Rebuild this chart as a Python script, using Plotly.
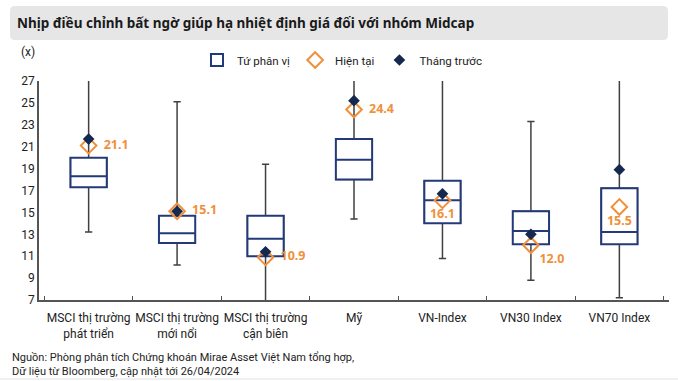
import plotly.graph_objects as go

categories = ["MSCI thị trường phát triển", "MSCI thị trường mới nổi", "MSCI thị trường cận biên",
              "Mỹ", "VN-Index", "VN30 Index", "VN70 Index"]
tick_labels = ["MSCI thị trường<br>phát triển", "MSCI thị trường<br>mới nổi", "MSCI thị trường<br>cận biên",
               "Mỹ", "VN-Index", "VN30 Index", "VN70 Index"]
q1 = [17.3, 12.2, 11.0, 18.0, 14.0, 12.1, 12.1]
median = [18.3, 13.1, 12.6, 19.8, 16.1, 13.3, 13.2]
q3 = [20.0, 14.7, 14.7, 21.7, 17.9, 15.1, 17.2]
lower = [13.2, 10.2, 6.0, 14.4, 10.8, 8.8, 7.2]
upper = [28.5, 25.1, 19.4, 29.0, 28.0, 23.3, 29.0]
current = [21.1, 15.1, 10.9, 24.4, 16.1, 12.0, 15.5]
previous = [21.7, 15.1, 11.4, 25.2, 16.7, 13.0, 18.9]
label_pos = ["middle right", "middle right", "middle right", "middle right",
             "bottom center", "bottom right", "bottom center"]

NAVY = "#22397A"
DARK = "#15294F"
ORANGE = "#F0903A"
GRAY = "#404040"
FONT = "Noto Sans"
CFONT = "Roboto"

def label(v, pos):
    s = f"{v:.1f}"
    return "\u00a0\u00a0" + s if pos == "middle right" else s

fig = go.Figure()
fig.add_trace(go.Box(x=categories, q1=q1, median=median, q3=q3, lowerfence=lower, upperfence=upper,
                     line=dict(color=GRAY, width=1.5), fillcolor="white", width=0.41, whiskerwidth=0.2,
                     boxpoints=False, showlegend=False, hoverinfo="skip"))
fig.add_trace(go.Box(x=categories, q1=q1, median=median, q3=q3, lowerfence=q1, upperfence=q3,
                     line=dict(color=NAVY, width=2), fillcolor="white", width=0.41, whiskerwidth=0,
                     boxpoints=False, name="Tứ phân vị"))
fig.add_trace(go.Scatter(x=categories, y=current, mode="markers+text", name="Hiện tại",
                         marker=dict(symbol="diamond-open", size=12, color=ORANGE, line=dict(width=2, color=ORANGE)),
                         text=[label(v, p) for v, p in zip(current, label_pos)], textposition=label_pos,
                         textfont=dict(color=ORANGE, size=12.5, family=FONT, weight="bold"), cliponaxis=False))
fig.add_trace(go.Scatter(x=categories, y=previous, mode="markers", name="Tháng trước",
                         marker=dict(symbol="diamond", size=9, color=DARK)))

L, R, T, B = 39, 9, 81, 81
W, H = 678, 381
pw, ph = W - L - R, H - T - B

def px(x):
    return (x - L) / pw

def py(y):
    return (H - B - y) / ph

x0, x1, y0, y1 = px(10), px(668), py(40), py(6)
rx, ry = 5 / pw, 5 / ph
path = (f"M {x0+rx},{y1} L {x1-rx},{y1} Q {x1},{y1} {x1},{y1-ry} L {x1},{y0+ry} Q {x1},{y0} {x1-rx},{y0} "
        f"L {x0+rx},{y0} Q {x0},{y0} {x0},{y0+ry} L {x0},{y1-ry} Q {x0},{y1} {x0+rx},{y1} Z")

fig.update_layout(
    width=W, height=H, margin=dict(l=L, r=R, t=T, b=B, autoexpand=False),
    paper_bgcolor="white", plot_bgcolor="white",
    font=dict(family=FONT, size=12, color="#222"),
    boxmode="overlay",
    shapes=[dict(type="path", xref="paper", yref="paper", path=path, fillcolor="#E6E6E6", line=dict(width=0), layer="below"),
            dict(type="line", xref="paper", yref="paper", x0=px(0), x1=px(678), y0=py(379), y1=py(379),
                 line=dict(color="#E2E2E2", width=1))],
    annotations=[
        dict(text="<b>Nhịp điều chỉnh bất ngờ giúp hạ nhiệt định giá đối với nhóm Midcap</b>", xref="paper", yref="paper",
             x=px(15), y=py(23), xanchor="left", yanchor="middle", showarrow=False, font=dict(size=13.5, color="#1a1a1a")),
        dict(text="(x)", xref="paper", yref="paper", x=px(19), y=py(52), xanchor="left", yanchor="middle",
             showarrow=False, font=dict(size=12, color="#222", family=CFONT)),
        dict(text="Nguồn: Phòng phân tích Chứng khoán Mirae Asset Việt Nam tổng hợp,<br>Dữ liệu từ Bloomberg, cập nhật tới 26/04/2024",
             xref="paper", yref="paper", x=px(10), y=py(364), xanchor="left", yanchor="middle", align="left",
             showarrow=False, font=dict(size=11, color="#222", family=CFONT)),
    ],
    legend=dict(orientation="h", x=px(342), xanchor="center", y=py(60), yanchor="middle",
                font=dict(size=11.5, family=CFONT), itemwidth=30, bgcolor="rgba(0,0,0,0)"),
    xaxis=dict(tickvals=categories, ticktext=tick_labels, showline=True, linecolor="#555", linewidth=1.5,
               ticks="inside", tickson="boundaries", ticklen=4, tickcolor="#555", showgrid=False, tickangle=0,
               ticklabelstandoff=6, automargin=False, tickfont=dict(size=12, color="#222", family=CFONT)),
    yaxis=dict(range=[7, 27], dtick=2, tick0=7, showline=True, linecolor="#555", linewidth=1.5, showgrid=False,
               zeroline=False, ticks="", automargin=False, tickfont=dict(size=12, color="#222", family=CFONT)),
)

fig.write_html("out.html", config={"displayModeBar": False},
               post_script="document.body.style.margin='0';document.body.style.padding='0';")
